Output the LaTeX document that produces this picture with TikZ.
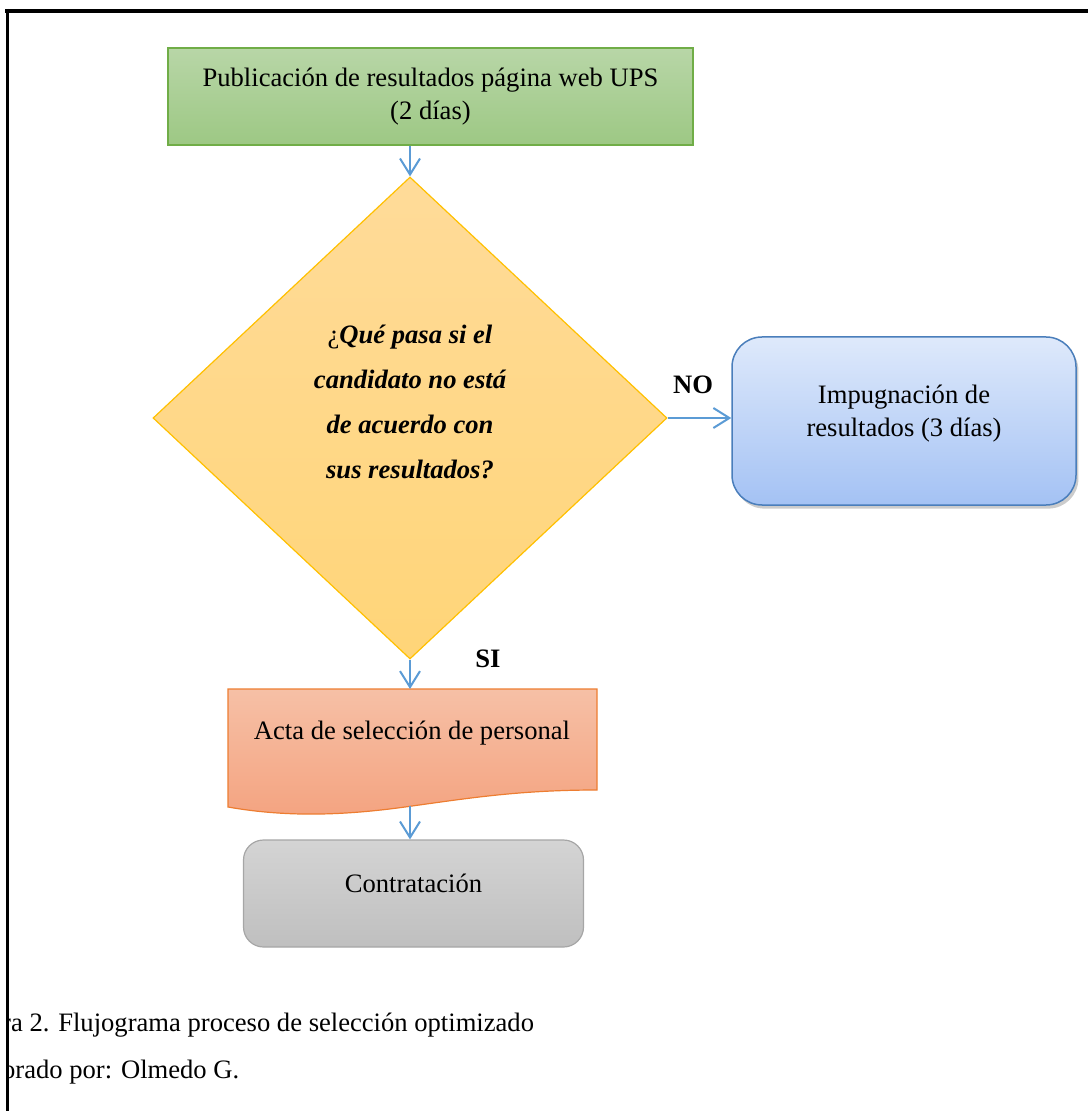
\documentclass[tikz,border=0pt]{standalone}
\usepackage{fontspec}
\setmainfont{Liberation Serif}
\usetikzlibrary{shapes.geometric,arrows.meta,shadows}

\definecolor{arrowblue}{RGB}{91,155,213}
\definecolor{greenline}{RGB}{112,173,71}
\definecolor{greentop}{RGB}{184,214,167}
\definecolor{greenbot}{RGB}{157,200,132}
\definecolor{goldline}{RGB}{255,192,0}
\definecolor{goldtop}{RGB}{255,219,153}
\definecolor{goldbot}{RGB}{255,213,120}
\definecolor{blueline}{RGB}{74,126,187}
\definecolor{bluetop}{RGB}{222,233,251}
\definecolor{bluebot}{RGB}{164,194,244}
\definecolor{orangeline}{RGB}{237,125,49}
\definecolor{orangetop}{RGB}{246,192,166}
\definecolor{orangebot}{RGB}{244,163,128}
\definecolor{grayline}{RGB}{166,166,166}
\definecolor{graytop}{RGB}{212,212,212}
\definecolor{graybot}{RGB}{191,191,191}

\begin{document}
\begin{tikzpicture}[
  x=0.5pt, y=-0.5pt,
  every node/.style={font=\fontsize{13.3}{16.5}\selectfont},
  pubbox/.style={rectangle,draw=greenline,line width=0.75pt,top color=greentop,bottom color=greenbot,
    minimum width=262.5pt,minimum height=48.5pt,align=center,inner sep=0pt},
  decision/.style={diamond,draw=goldline,line width=0.6pt,top color=goldtop,bottom color=goldbot,
    minimum width=257pt,minimum height=241pt,inner sep=0pt},
  qtext/.style={align=center,inner sep=0pt,font=\fontsize{13.3}{22.5}\selectfont\bfseries\itshape},
  impbox/.style={rectangle,rounded corners=15pt,draw=blueline,line width=0.75pt,top color=bluetop,bottom color=bluebot,
    minimum width=172pt,minimum height=84pt,align=center,inner sep=0pt,text depth=10pt,
    drop shadow={shadow xshift=1.2pt,shadow yshift=-1.8pt,opacity=0.4}},
  docshape/.style={draw=orangeline,line width=0.6pt,top color=orangetop,bottom color=orangebot},
  endbox/.style={rectangle,rounded corners=10pt,draw=grayline,line width=0.6pt,top color=graytop,bottom color=graybot,
    minimum width=170pt,minimum height=53.5pt,inner sep=0pt,text depth=10pt},
  lbl/.style={font=\fontsize{13.3}{16}\selectfont\bfseries,inner sep=0pt},
  caption/.style={anchor=base west,inner sep=0pt},
  arrow/.style={-{Straight Barb[length=8pt,width=10pt]},draw=arrowblue,line width=1pt}
]
\useasboundingbox (0,0) rectangle (1088,1111);

\node[pubbox] (pub) at (430.5,96.5) {Publicación de resultados página web UPS\\(2 días)};
\node[decision] (dia) at (410,418) {};
\node[qtext] (qtxt) at (410,402) {{\normalfont ¿}Qué pasa si el\\candidato no está\\de acuerdo con\\sus resultados?};
\node[impbox] (imp) at (904,421) {Impugnación de\\resultados (3 días)};

\path[docshape] (228,689) -- (597,689) -- (597,790) .. controls (520,790) and (470,798) .. (412,806)
  .. controls (350,815) and (290,818) .. (228,807) -- cycle;
\coordinate (actatop) at (410,689);
\coordinate (actabot) at (410,806);
\node (acta) at (412,733) {Acta de selección de personal};
\node[endbox] (cont) at (413.5,893.5) {Contratación};

\node[lbl] (no) at (693,385) {NO};
\node[lbl] (si) at (488,659) {SI};

\draw[arrow] (dia.north |- pub.south) -- (dia.north);
\draw[arrow] (dia.east) -- (dia.east -| imp.west);
\draw[arrow] (dia.south) -- (actatop);
\draw[arrow] (actabot) -- (actabot |- cont.north);

\begin{scope}
  \clip (9,950) rectangle (1088,1111);
  \node[caption] (fig) at (-47,1031) {Figura 2. Flujograma proceso de selección optimizado};
  \node[caption] (elab) at (-47,1078) {Elaborado por: Olmedo G.};
\end{scope}

\draw[line width=1.75pt] (5,11) -- (1088,11);
\draw[line width=1.5pt] (7.5,9) -- (7.5,1111);
\end{tikzpicture}
\end{document}
